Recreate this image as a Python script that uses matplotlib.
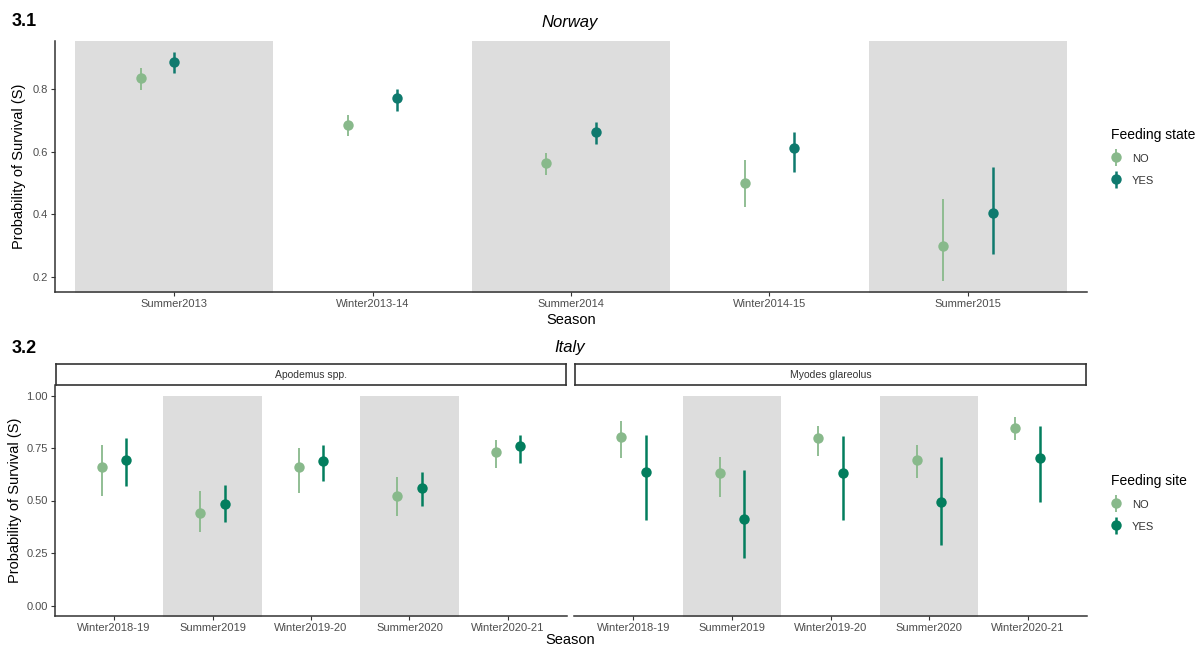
import matplotlib
matplotlib.use("Agg")
import matplotlib.pyplot as plt
from matplotlib.legend_handler import HandlerErrorbar
import numpy as np

plt.rcParams["font.family"] = ["Liberation Sans", "DejaVu Sans"]

# ---- Norway (3.1): survival by feeding state ----
nor_seasons = ["Summer2013", "Winter2013-14", "Summer2014", "Winter2014-15", "Summer2015"]
nor_no = [0.835, 0.685, 0.563, 0.500, 0.298]
nor_no_lo = [0.797, 0.650, 0.525, 0.423, 0.187]
nor_no_hi = [0.867, 0.717, 0.595, 0.573, 0.449]
nor_yes = [0.886, 0.770, 0.662, 0.610, 0.404]
nor_yes_lo = [0.851, 0.730, 0.625, 0.535, 0.273]
nor_yes_hi = [0.918, 0.800, 0.695, 0.662, 0.551]

# ---- Italy (3.2): survival by feeding site, per species ----
ita_seasons = ["Winter2018-19", "Summer2019", "Winter2019-20", "Summer2020", "Winter2020-21"]
species = ["Apodemus spp.", "Myodes glareolus"]
apo_no = [0.658, 0.440, 0.658, 0.523, 0.730]
apo_no_lo = [0.520, 0.348, 0.536, 0.424, 0.655]
apo_no_hi = [0.766, 0.544, 0.750, 0.612, 0.790]
apo_yes = [0.695, 0.484, 0.687, 0.560, 0.758]
apo_yes_lo = [0.567, 0.400, 0.591, 0.472, 0.679]
apo_yes_hi = [0.800, 0.572, 0.766, 0.634, 0.814]
myo_no = [0.801, 0.631, 0.798, 0.691, 0.846]
myo_no_lo = [0.703, 0.517, 0.714, 0.607, 0.790]
myo_no_hi = [0.877, 0.708, 0.857, 0.762, 0.898]
myo_yes = [0.634, 0.413, 0.631, 0.491, 0.703]
myo_yes_lo = [0.409, 0.226, 0.409, 0.289, 0.491]
myo_yes_hi = [0.811, 0.644, 0.806, 0.708, 0.854]

groups = ["NO", "YES"]

COL_NO = "#88b98b"
COL_YES_NOR = "#0f7a6e"
COL_YES_ITA = "#037e5e"
SHADE = "#dddddd"
AXC = "#333333"
TXT = "#4d4d4d"

W, H = 1198, 648
fig = plt.figure(figsize=(W / 100, H / 100), dpi=100)


def box(left, top, right, bottom):
    return [left / W, 1 - bottom / H, (right - left) / W, (bottom - top) / H]


def style_axes(ax, show_y=True):
    for s in ["top", "right"]:
        ax.spines[s].set_visible(False)
    ax.spines["bottom"].set_color(AXC)
    ax.spines["bottom"].set_linewidth(1.1)
    if show_y:
        ax.spines["left"].set_color(AXC)
        ax.spines["left"].set_linewidth(1.1)
    else:
        ax.spines["left"].set_visible(False)
        ax.tick_params(axis="y", left=False, labelleft=False)
    ax.tick_params(axis="both", colors=AXC, labelcolor=TXT, labelsize=8,
                   length=3, width=0.8, pad=2)
    ax.set_facecolor("white")


def shade_summers(ax, seasons, y_low):
    for i, s in enumerate(seasons):
        if s.startswith("Summer"):
            ax.fill_between([i - 0.5, i + 0.5], y_low - 1, 1.0,
                            color=SHADE, lw=0, zorder=0)


def pointrange(ax, x, y, lo, hi, color, lw, ms):
    y = np.asarray(y)
    err = np.vstack([y - np.asarray(lo), np.asarray(hi) - y])
    return ax.errorbar(x, y, yerr=err, fmt="o", color=color, ecolor=color,
                       elinewidth=lw, capsize=0, markersize=ms,
                       markeredgewidth=0, zorder=3)


# ---------------- top panel ----------------
ax1 = fig.add_axes(box(55, 41, 1087, 292))
style_axes(ax1)
xt = np.arange(len(nor_seasons))
ax1.set_xlim(-0.6, len(nor_seasons) - 0.4)
ax1.set_ylim(0.152, 0.953)
shade_summers(ax1, nor_seasons, 0.152)
dodge_no = np.full(len(nor_seasons), -0.125)
dodge_yes = np.full(len(nor_seasons), 0.125)
dodge_no[0], dodge_yes[0] = -0.166, 0.0
h_nor = [
    pointrange(ax1, xt + dodge_no, nor_no, nor_no_lo, nor_no_hi, COL_NO, 1.3, 7.5),
    pointrange(ax1, xt + dodge_yes, nor_yes, nor_yes_lo, nor_yes_hi, COL_YES_NOR, 1.8, 7.5),
]
ax1.set_xticks(xt)
ax1.set_xticklabels(nor_seasons)
ax1.set_yticks([0.2, 0.4, 0.6, 0.8])
ax1.set_yticklabels(["0.2", "0.4", "0.6", "0.8"])
ax1.set_xlabel("Season", fontsize=10.5, color="black", labelpad=3)
ax1.set_ylabel("Probability of Survival (S)", fontsize=10.5, color="black", labelpad=5)
fig.text(570 / W, 1 - 23 / H, "Norway", ha="center", va="center",
         fontsize=12, style="italic", color="black")
fig.text(12 / W, 1 - 22 / H, "3.1", ha="left", va="center",
         fontsize=13, weight="bold", color="black")

# ---------------- bottom panels ----------------
facets = [
    (55, 567, apo_no, apo_no_lo, apo_no_hi, apo_yes, apo_yes_lo, apo_yes_hi),
    (574, 1087, myo_no, myo_no_lo, myo_no_hi, myo_yes, myo_yes_lo, myo_yes_hi),
]
xi = np.arange(len(ita_seasons))
h_ita = None
for k, (l, r, no, no_lo, no_hi, yes, yes_lo, yes_hi) in enumerate(facets):
    ax = fig.add_axes(box(l, 385, r, 616))
    style_axes(ax, show_y=(k == 0))
    ax.set_xlim(-0.6, len(ita_seasons) - 0.4)
    ax.set_ylim(-0.05, 1.05)
    shade_summers(ax, ita_seasons, -0.05)
    hs = [
        pointrange(ax, xi - 0.125, no, no_lo, no_hi, COL_NO, 1.3, 7.5),
        pointrange(ax, xi + 0.125, yes, yes_lo, yes_hi, COL_YES_ITA, 1.8, 7.5),
    ]
    if h_ita is None:
        h_ita = hs
    ax.set_xticks(xi)
    ax.set_xticklabels(ita_seasons)
    ax.set_yticks([0.0, 0.25, 0.5, 0.75, 1.0])
    ax.set_yticklabels(["0.00", "0.25", "0.50", "0.75", "1.00"])
    if k == 0:
        ax.set_ylabel("Probability of Survival (S)", fontsize=10.5,
                      color="black", labelpad=3)
    # facet strip
    sx = fig.add_axes(box(l + 1, 364, r - 1, 385))
    sx.set_xticks([])
    sx.set_yticks([])
    for s in sx.spines.values():
        s.set_color(AXC)
        s.set_linewidth(1.2)
    sx.text(0.5, 0.5, species[k], ha="center", va="center",
            fontsize=7.5, color="#333333", transform=sx.transAxes)

fig.text(570 / W, 1 - 640 / H, "Season", ha="center", va="center",
         fontsize=10.5, color="black")
fig.text(570 / W, 1 - 347 / H, "Italy", ha="center", va="center",
         fontsize=12, style="italic", color="black")
fig.text(12 / W, 1 - 348 / H, "3.2", ha="left", va="center",
         fontsize=13, weight="bold", color="black")


# ---------------- legends ----------------
def add_legend(handles, title, top_px):
    leg = fig.legend(handles, groups, title=title, loc="upper left",
                     bbox_to_anchor=(1103 / W, 1 - top_px / H),
                     frameon=False, fontsize=8, title_fontsize=10,
                     handlelength=1.0, handleheight=1.0, handletextpad=0.9,
                     labelspacing=1.0, borderpad=0.2,
                     handler_map={type(handles[0]): HandlerErrorbar(yerr_size=0.75)})
    leg._legend_box.align = "left"
    for t in leg.get_texts():
        t.set_color("#333333")
    return leg


add_legend(h_nor, "Feeding state", 120)
add_legend(h_ita, "Feeding site", 466)

fig.savefig("out.png", dpi=100, facecolor="white")
